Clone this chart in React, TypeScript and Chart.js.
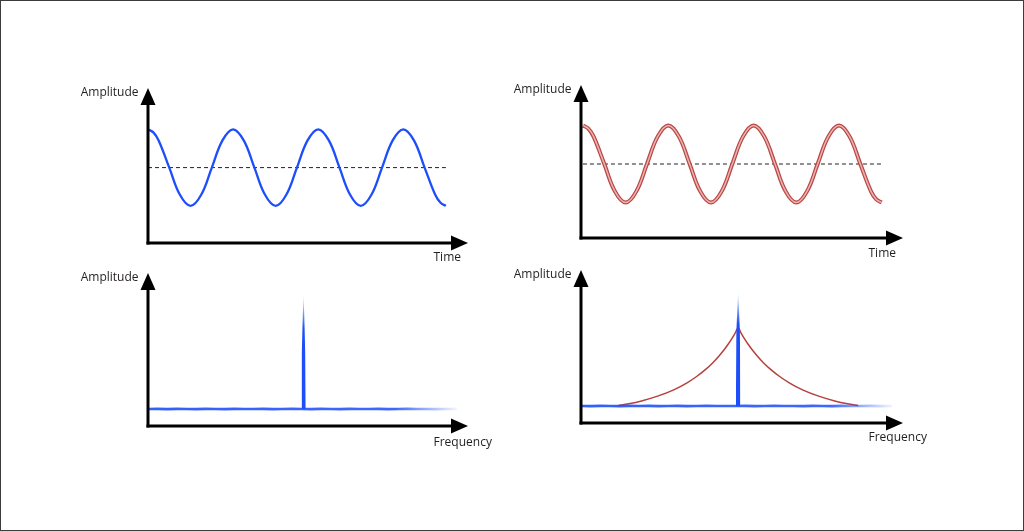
import React, { useEffect, useRef } from "react";
import { Chart, registerables } from "chart.js";

Chart.register(...registerables);

// ---------- data ----------
// time axis (periods), 3.5 periods; extra samples near both ends
const timeGrid = [
  0, 0.0625, 0.125, 0.25, 0.375, 0.5, 0.625, 0.75, 0.875,
  1, 1.125, 1.25, 1.375, 1.5, 1.625, 1.75, 1.875,
  2, 2.125, 2.25, 2.375, 2.5, 2.625, 2.75, 2.875,
  3, 3.125, 3.25, 3.375, 3.4375, 3.5,
];
const sineLeft = [
  3, 2.92, 2.71, 2, 1.29, 1, 1.29, 2, 2.71,
  3, 2.71, 2, 1.29, 1, 1.29, 2, 2.71,
  3, 2.71, 2, 1.29, 1, 1.29, 2, 2.71,
  3, 2.71, 2, 1.29, 1.08, 1,
];
const sineRight = [
  3, 2.92, 2.71, 2, 1.29, 1, 1.29, 2, 2.71,
  3, 2.71, 2, 1.29, 1, 1.29, 2, 2.71,
  3, 2.71, 2, 1.29, 1, 1.29, 2, 2.71,
  3, 2.71, 2, 1.29, 1.08, 1,
];
const meanTime = [0, 3.5];
const meanLevel = [2, 2];

// frequency axis (0..100)
const freqGrid = [
  0.3, 3, 6, 9, 12, 15, 18, 21, 24, 27, 30, 33, 36, 39, 42, 45, 48,
  51, 54, 57, 60, 63, 66, 69, 72, 75, 78, 81, 84, 87, 90, 93, 96.6,
];
const noiseLeft = [
  1.0, 1.01, 0.99, 1.01, 1.0, 0.99, 1.01, 1.0, 0.99, 1.01, 1.0, 1.0, 1.01, 0.99, 1.0, 1.01, 1.0,
  0.99, 1.01, 1.0, 0.99, 1.01, 1.0, 1.0, 1.01, 0.99, 1.0, 1.01, 1.0, 1.0, 0.99, 1.0, 1.0,
];
const noiseRight = [
  1.0, 0.99, 1.01, 1.0, 0.99, 1.01, 1.0, 1.01, 0.99, 1.0, 1.01, 0.99, 1.0, 1.01, 1.0, 1.0, 1.0,
  1.01, 0.99, 1.0, 1.01, 1.0, 1.0, 0.99, 1.01, 1.0, 0.99, 1.01, 1.0, 1.0, 1.01, 0.99, 1.0,
];
// narrow spectral line (pure sine)
const spikeLeftFreq = [47.9, 48.05, 48.35, 48.6, 48.85, 49.15, 49.3];
const spikeLeftAmp = [1, 4.2, 6.4, 7.76, 6.4, 4.2, 1];
const spikeRightFreq = [48.1, 48.25, 48.55, 48.8, 49.05, 49.35, 49.5];
const spikeRightAmp = [1, 5.4, 6.7, 7.7, 6.7, 5.4, 1];
// broadened line (damped sine)
const broadFreq = [
  11.5, 14.8, 18.8, 23.8, 28.8, 32.8, 35.8, 38.8, 40.8, 42.8, 44.8, 45.8, 46.8, 47.8, 48.8,
  49.8, 50.8, 51.8, 52.8, 54.8, 56.8, 58.8, 61.8, 64.8, 68.8, 73.8, 78.8, 82.8, 86.1,
];
const broadAmp = [
  1.02, 1.13, 1.3, 1.58, 1.95, 2.35, 2.72, 3.17, 3.52, 3.93, 4.4, 4.66, 4.95, 5.26, 5.59,
  5.26, 4.95, 4.66, 4.4, 3.93, 3.52, 3.17, 2.72, 2.35, 1.95, 1.58, 1.3, 1.13, 1.02,
];

const yLabel = "Amplitude";
const timeLabel = "Time";
const freqLabel = "Frequency";

// ---------- helpers ----------
const BLUE = "rgba(29,78,250,1)";
const pts = (xs: number[], ys: number[]) => xs.map((x, i) => ({ x, y: ys[i] }));

const arrowAxes = {
  id: "arrowAxes",
  afterDatasetsDraw(chart: any, _args: any, opts: any) {
    const { ctx, chartArea } = chart;
    const { left, right, top, bottom } = chartArea;
    const L = 17;
    const W = 7.5;
    ctx.save();
    ctx.strokeStyle = "#000";
    ctx.fillStyle = "#000";
    ctx.lineWidth = 3;
    ctx.beginPath();
    ctx.moveTo(left, bottom + 1.5);
    ctx.lineTo(left, top + L - 2);
    ctx.stroke();
    ctx.beginPath();
    ctx.moveTo(left - 1.5, bottom);
    ctx.lineTo(right - L + 2, bottom);
    ctx.stroke();
    ctx.beginPath();
    ctx.moveTo(left, top);
    ctx.lineTo(left - W, top + L);
    ctx.lineTo(left + W, top + L);
    ctx.closePath();
    ctx.fill();
    ctx.beginPath();
    ctx.moveTo(right, bottom);
    ctx.lineTo(right - L, bottom - W);
    ctx.lineTo(right - L, bottom + W);
    ctx.closePath();
    ctx.fill();
    ctx.fillStyle = "#231f20";
    ctx.font = '12px "Open Sans"';
    ctx.textBaseline = "alphabetic";
    ctx.textAlign = "right";
    ctx.fillText(opts.yLabel, left - 9.5, top + 8);
    ctx.textAlign = "left";
    ctx.fillText(opts.xLabel, right - 34.5, bottom + opts.xLabelDy);
    ctx.restore();
  },
};

function fadeRight(x0: number, x1: number) {
  return (c: any) => {
    const chart = c.chart;
    if (!chart.chartArea) return BLUE;
    const xs = chart.scales.x;
    const g = chart.ctx.createLinearGradient(xs.getPixelForValue(x0), 0, xs.getPixelForValue(x1), 0);
    g.addColorStop(0, "rgba(29,78,250,0.9)");
    g.addColorStop(0.8, "rgba(29,78,250,0.85)");
    g.addColorStop(1, "rgba(29,78,250,0.05)");
    return g;
  };
}

function fadeUp(y0: number, y1: number, solidUntil: number) {
  return (c: any) => {
    const chart = c.chart;
    if (!chart.chartArea) return BLUE;
    const ys = chart.scales.y;
    const g = chart.ctx.createLinearGradient(0, ys.getPixelForValue(y0), 0, ys.getPixelForValue(y1));
    g.addColorStop(0, "rgba(29,78,250,1)");
    g.addColorStop(solidUntil, "rgba(29,78,250,1)");
    g.addColorStop(1, "rgba(29,78,250,0.05)");
    return g;
  };
}

function baseOptions(pad: any, xr: number[], yr: number[], xLabel: string, xLabelDy: number) {
  return {
    responsive: false,
    animation: false,
    events: [],
    layout: { padding: pad },
    elements: { point: { radius: 0 } },
    scales: {
      x: { type: "linear", min: xr[0], max: xr[1], display: false },
      y: { type: "linear", min: yr[0], max: yr[1], display: false },
    },
    plugins: {
      legend: { display: false },
      tooltip: { enabled: false },
      arrowAxes: { yLabel, xLabel, xLabelDy },
    },
  };
}

function makeConfigs(): any[] {
  const W = 1024;
  const H = 531;
  // top-left: pure sine in time
  const tl = {
    type: "line",
    data: {
      datasets: [
        {
          data: pts(meanTime, meanLevel),
          borderColor: "#222",
          borderWidth: 1,
          borderDash: [4, 3],
          order: 2,
        },
        {
          data: pts(timeGrid, sineLeft),
          borderColor: BLUE,
          borderWidth: 2.3,
          tension: 0.4,
          order: 1,
        },
      ],
    },
    options: baseOptions(
      { left: 148, top: 88, right: W - 468, bottom: H - 243 },
      [0, 3.76],
      [0.03, 4.08],
      timeLabel,
      18
    ),
    plugins: [arrowAxes],
  };
  // top-right: damped sine (red double line)
  const tr = {
    type: "line",
    data: {
      datasets: [
        {
          data: pts(meanTime, meanLevel),
          borderColor: "#222",
          borderWidth: 1,
          borderDash: [4, 3],
          order: 3,
        },
        {
          data: pts(timeGrid, sineRight),
          borderColor: "#b94744",
          borderWidth: 4,
          tension: 0.4,
          order: 2,
        },
        {
          data: pts(timeGrid, sineRight),
          borderColor: "#eab3b1",
          borderWidth: 1.5,
          tension: 0.4,
          order: 1,
        },
      ],
    },
    options: baseOptions(
      { left: 581, top: 85, right: W - 903, bottom: H - 238 },
      [-0.023, 3.75],
      [0.08, 4.05],
      timeLabel,
      19
    ),
    plugins: [arrowAxes],
  };
  // bottom-left: narrow spectrum
  const bl = {
    type: "line",
    data: {
      datasets: [
        {
          data: pts(freqGrid, noiseLeft),
          borderColor: fadeRight(0.3, 96.6),
          borderWidth: 2.6,
          order: 2,
        },
        {
          data: pts(spikeLeftFreq, spikeLeftAmp),
          borderWidth: 0,
          borderColor: "rgba(0,0,0,0)",
          backgroundColor: fadeUp(1, 7.76, 0.7),
          fill: { value: 1 },
          order: 1,
        },
      ],
    },
    options: baseOptions(
      { left: 148, top: 273, right: W - 468, bottom: H - 426 },
      [0, 100],
      [0, 9.0],
      freqLabel,
      20
    ),
    plugins: [arrowAxes],
  };
  // bottom-right: broadened spectrum
  const br = {
    type: "line",
    data: {
      datasets: [
        {
          data: pts(broadFreq, broadAmp),
          borderColor: "#b6403c",
          borderWidth: 1.5,
          cubicInterpolationMode: "monotone",
          order: 3,
        },
        {
          data: pts(freqGrid, noiseRight),
          borderColor: fadeRight(0.3, 96.9),
          borderWidth: 2.6,
          order: 2,
        },
        {
          data: pts(spikeRightFreq, spikeRightAmp),
          borderWidth: 0,
          borderColor: "rgba(0,0,0,0)",
          backgroundColor: fadeUp(1, 7.7, 0.72),
          fill: { value: 1 },
          order: 1,
        },
      ],
    },
    options: baseOptions(
      { left: 581, top: 270, right: W - 903, bottom: H - 423 },
      [0, 100],
      [0, 9.0],
      freqLabel,
      18
    ),
    plugins: [arrowAxes],
  };
  return [tl, tr, bl, br];
}

export default function App() {
  const refs = [useRef<HTMLCanvasElement>(null), useRef<HTMLCanvasElement>(null), useRef<HTMLCanvasElement>(null), useRef<HTMLCanvasElement>(null)];

  useEffect(() => {
    const cfgs = makeConfigs();
    const charts = cfgs.map((cfg, i) => new Chart(refs[i].current as HTMLCanvasElement, cfg));
    return () => charts.forEach((c) => c.destroy());
  }, []);

  const canvasStyle: React.CSSProperties = {
    position: "absolute",
    left: 0,
    top: 0,
    width: 1024,
    height: 531,
  };

  return (
    <div
      style={{
        position: "fixed",
        left: 0,
        top: 0,
        width: 1024,
        height: 531,
        background: "#fff",
        overflow: "hidden",
      }}
    >
      {refs.map((r, i) => (
        <canvas key={i} ref={r} width={1024} height={531} style={canvasStyle} />
      ))}
      <div
        style={{
          position: "absolute",
          left: 0,
          top: 0,
          width: 1024,
          height: 531,
          boxSizing: "border-box",
          border: "1px solid #3c3c3c",
          pointerEvents: "none",
        }}
      />
    </div>
  );
}
